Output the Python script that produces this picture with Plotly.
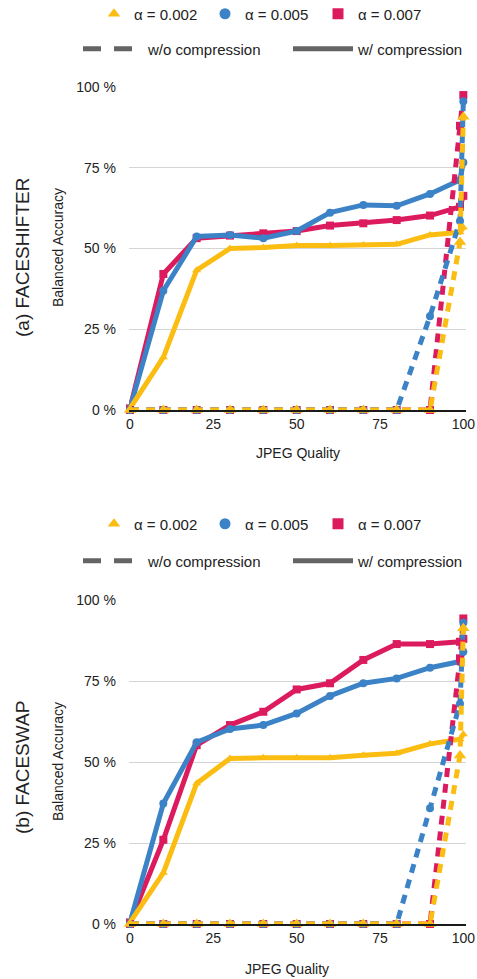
import plotly.graph_objects as go

# JPEG quality levels used in the evaluation
quality = [0, 10, 20, 30, 40, 50, 60, 70, 80, 90, 99, 100]

# (a) FaceShifter: balanced accuracy (%) with compression during training
fs_w_002 = [0.5, 16.3, 43.3, 50.0, 50.3, 50.9, 50.9, 51.1, 51.3, 54.2, 55.0, 56.5]
fs_w_005 = [0.5, 36.9, 53.7, 54.2, 53.2, 55.4, 61.1, 63.5, 63.2, 66.9, 71.2, 76.6]
fs_w_007 = [0.5, 42.1, 53.2, 54.0, 54.7, 55.4, 57.1, 57.8, 58.8, 60.2, 62.9, 66.3]
# (a) FaceShifter: without compression
fs_wo_002 = [0, 0, 0, 0, 0, 0, 0, 0, 0, 0, 52.0, 90.8]
fs_wo_005 = [0, 0, 0, 0, 0, 0, 0, 0, 0, 29.0, 58.5, 95.6]
fs_wo_007 = [0, 0, 0, 0, 0, 0, 0, 0, 0, 0, 88.0, 97.5]

# (b) FaceSwap: with compression
sw_w_002 = [0.5, 15.8, 43.4, 51.1, 51.3, 51.3, 51.3, 52.1, 52.7, 55.6, 57.0, 58.6]
sw_w_005 = [0.5, 37.2, 56.1, 60.2, 61.4, 65.0, 70.4, 74.3, 75.8, 79.1, 81.0, 84.0]
sw_w_007 = [0.5, 26.0, 55.2, 61.4, 65.5, 72.4, 74.3, 81.5, 86.4, 86.4, 87.1, 88.0]
# (b) FaceSwap: without compression
sw_wo_002 = [0, 0, 0, 0, 0, 0, 0, 0, 0, 0, 52.0, 91.3]
sw_wo_005 = [0, 0, 0, 0, 0, 0, 0, 0, 0, 35.7, 68.0, 93.0]
sw_wo_007 = [0, 0, 0, 0, 0, 0, 0, 0, 0, 0, 82.0, 94.3]

alpha_labels = ["α = 0.002", "α = 0.005", "α = 0.007"]
style_labels = ["w/o compression", "w/ compression"]
colors = ["#FBBD12", "#3B82C6", "#DC1B5E"]
symbols = ["triangle-up", "circle", "square"]
x_ticks = [0, 25, 50, 75, 100]
y_ticks = [0, 25, 50, 75, 100]
y_tick_text = ["0 %", "25 %", "50 %", "75 %", "100 %"]

W, H = 477, 979
FONT = "Liberation Sans, Arial, Helvetica, sans-serif"
DASH = "9px,7px"
LW = 5
dashed_marker_size = [11, 8, 8]


def py(p):
    return 1 - p / H


def px(p):
    return p / W


fig = go.Figure()

panels = [
    ("x", "y", [fs_w_007, fs_w_005, fs_w_002], [fs_wo_007, fs_wo_005, fs_wo_002]),
    ("x2", "y2", [sw_w_007, sw_w_005, sw_w_002], [sw_wo_007, sw_wo_005, sw_wo_002]),
]
order = [2, 1, 0]  # draw red first, yellow last
for xa, ya, solid, dashed in panels:
    for k, i in enumerate(order):
        fig.add_trace(go.Scatter(
            x=quality, y=solid[k], xaxis=xa, yaxis=ya, mode="lines+markers",
            line=dict(color=colors[i], width=LW),
            marker=dict(symbol=symbols[i], size=8, color=colors[i]),
            cliponaxis=False, showlegend=False))
    for k, i in enumerate(order):
        fig.add_trace(go.Scatter(
            x=quality, y=dashed[k], xaxis=xa, yaxis=ya, mode="lines+markers",
            line=dict(color=colors[i], width=LW, dash=DASH),
            marker=dict(symbol=symbols[i], size=dashed_marker_size[i], color=colors[i]),
            cliponaxis=False, showlegend=False))

# one legend box per key entry, so each entry can sit where it belongs
leg_common = dict(orientation="h", xanchor="left", yanchor="middle",
                  bgcolor="rgba(0,0,0,0)", font=dict(family=FONT, size=15, color="#222"))
legends = {}
n = 1
for row1_y, row2_y in [(14, 49), (524, 561)]:
    for i, lx in enumerate([94, 205, 318]):
        name = "legend" if n == 1 else f"legend{n}"
        legends[name] = dict(leg_common, x=px(lx), y=py(row1_y), itemwidth=30)
        fig.add_trace(go.Scatter(
            x=[None], y=[None], mode="markers", name=alpha_labels[i],
            marker=dict(symbol=symbols[i], size=11, color=colors[i]), legend=name))
        n += 1
    for j, lx in enumerate([78, 288]):
        name = f"legend{n}"
        legends[name] = dict(leg_common, x=px(lx), y=py(row2_y), itemwidth=60)
        fig.add_trace(go.Scatter(
            x=[None], y=[None], mode="lines", name=style_labels[j],
            line=dict(color="#646464", width=5, dash="18px,13px" if j == 0 else "solid"),
            legend=name))
        n += 1

xdom = [px(129), px(466)]
axis_x = dict(range=[-0.3, 100.8], domain=xdom, tickvals=x_ticks, showgrid=False,
              zeroline=False, showline=True, linecolor="#1a1a1a", linewidth=1.5,
              ticks="", tickfont=dict(family=FONT, size=14, color="#222"),
              fixedrange=True)
axis_y = dict(range=[0, 100], tickvals=y_ticks, ticktext=y_tick_text, showgrid=True,
              gridcolor="#D4D4D4", gridwidth=1, zeroline=False, showline=False,
              ticks="", ticklabelstandoff=12,
              tickfont=dict(family=FONT, size=14, color="#222"), fixedrange=True)


def label(text, x, y, size=14, angle=0):
    return dict(text=text, x=px(x), y=py(y), xref="paper", yref="paper",
                xanchor="center", yanchor="middle", textangle=angle,
                showarrow=False, font=dict(family=FONT, size=size, color="#222"))


fig.update_layout(
    width=W, height=H, margin=dict(l=0, r=0, t=0, b=0, autoexpand=False),
    paper_bgcolor="white", plot_bgcolor="white",
    xaxis=dict(axis_x, anchor="y"),
    yaxis=dict(axis_y, domain=[py(410), py(87)], anchor="x"),
    xaxis2=dict(axis_x, anchor="y2"),
    yaxis2=dict(axis_y, domain=[py(924), py(600)], anchor="x2"),
    annotations=[
        label("JPEG Quality", 298, 453),
        label("JPEG Quality", 287, 969),
        label("Balanced Accuracy", 58, 248, angle=-90),
        label("Balanced Accuracy", 58, 762, angle=-90),
        label("(a) FACESHIFTER", 22, 258, size=19, angle=-90),
        label("(b) FACESWAP", 22, 768, size=19, angle=-90),
    ],
    **legends,
)

fig.write_html("out.html")
